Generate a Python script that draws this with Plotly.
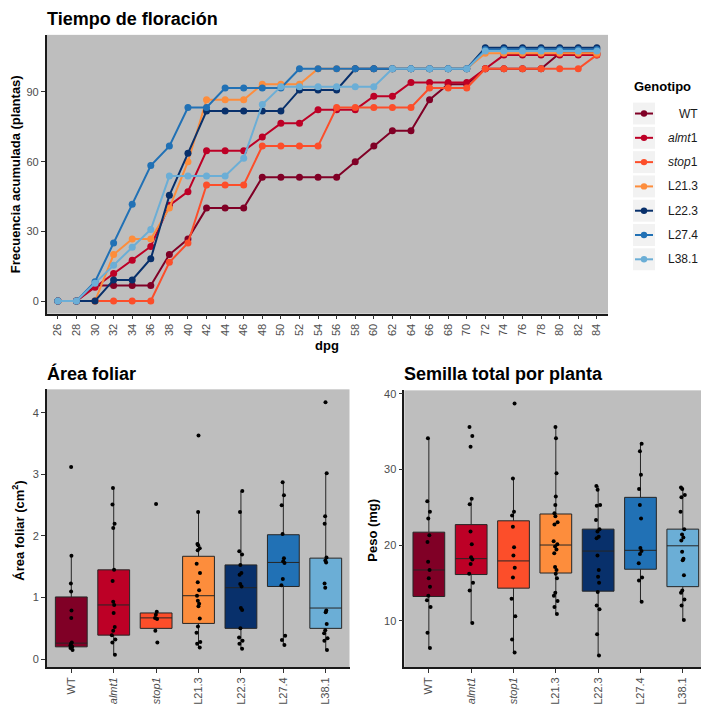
import plotly.graph_objects as go

W, H = 701, 706
FONT = "Liberation Sans, Arial, sans-serif"
PANEL = "#BEBEBE"

genotypes = ["WT", "almt1", "stop1", "L21.3", "L22.3", "L27.4", "L38.1"]
labels = ["WT", "<i>almt</i>1", "<i>stop</i>1", "L21.3", "L22.3", "L27.4", "L38.1"]
tick_labels = ["WT", "<i>almt1</i>", "<i>stop1</i>", "L21.3", "L22.3", "L27.4", "L38.1"]
colors = ["#800026", "#BD0026", "#FC4E2A", "#FD8D3C", "#08306B", "#2171B5", "#6BAED6"]

# ---- Tiempo de floración: cumulative frequency by day (dpg)
days = list(range(26, 86, 2))
freq_WT = [0, 0, 6.7, 6.7, 6.7, 6.7, 20, 26.7, 40, 40, 40, 53.3, 53.3, 53.3, 53.3, 53.3,
           60, 66.7, 73.3, 73.3, 86.7, 93.3, 93.3, 100, 100, 100, 100, 106.7, 106.7, 106.7]
freq_almt1 = [0, 0, 5.9, 11.8, 17.6, 23.5, 41.2, 47.1, 64.7, 64.7, 64.7, 70.6, 76.5, 76.5, 82.4,
              82.4, 82.4, 88.2, 88.2, 94.1, 94.1, 94.1, 94.1, 100, 105.9, 105.9, 105.9, 105.9, 105.9, 105.9]
freq_stop1 = [0, 0, 0, 0, 0, 0, 16.7, 25, 50, 50, 50, 66.7, 66.7, 66.7, 66.7, 83.3,
              83.3, 83.3, 83.3, 83.3, 91.7, 91.7, 91.7, 100, 100, 100, 100, 100, 100, 106]
freq_L213 = [0, 0, 0, 20, 26.7, 26.7, 40, 60, 86.7, 86.7, 86.7, 93.3, 93.3, 93.3, 100, 100,
             100, 100, 100, 100, 100, 100, 100, 106.7, 106.7, 106.7, 106.7, 106.7, 106.7, 106.7]
freq_L223 = [0, 0, 0, 9.1, 9.1, 18.2, 45.5, 63.6, 81.8, 81.8, 81.8, 81.8, 81.8, 90.9, 90.9, 90.9,
             100, 100, 100, 100, 100, 100, 100, 109.1, 109.1, 109.1, 109.1, 109.1, 109.1, 109.1]
freq_L274 = [0, 0, 8.3, 25, 41.7, 58.3, 66.7, 83.3, 83.3, 91.7, 91.7, 91.7, 91.7, 100, 100, 100,
             100, 100, 100, 100, 100, 100, 100, 108.3, 108.3, 108.3, 108.3, 108.3, 108.3, 108.3]
freq_L381 = [0, 0, 7.7, 15.4, 23.1, 30.8, 53.8, 53.8, 53.8, 53.8, 61.5, 84.6, 92.3, 92.3, 92.3, 92.3,
             92.3, 92.3, 100, 100, 100, 100, 100, 107.7, 107.7, 107.7, 107.7, 107.7, 107.7, 107.7]
freq_series = [freq_WT, freq_almt1, freq_stop1, freq_L213, freq_L223, freq_L274, freq_L381]
top_yticks = [0, 30, 60, 90]

# ---- Área foliar: box statistics and individual plants
area_q1 = [0.20, 0.39, 0.50, 0.58, 0.50, 1.18, 0.50]
area_median = [0.26, 0.88, 0.67, 1.03, 1.16, 1.57, 0.83]
area_q3 = [1.01, 1.45, 0.75, 1.67, 1.53, 2.02, 1.64]
area_lower = [0.15, 0.07, 0.47, 0.19, 0.17, 0.23, 0.15]
area_upper = [1.68, 2.78, 0.77, 2.39, 2.73, 2.87, 3.02]
area_points = [
    [3.12, 1.68, 1.23, 1.10, 0.79, 0.67, 0.27, 0.25, 0.22, 0.20, 0.18, 0.15],
    [2.78, 2.51, 2.20, 2.13, 1.45, 1.27, 0.93, 0.88, 0.75, 0.52, 0.46, 0.39, 0.32, 0.27, 0.07],
    [2.52, 0.77, 0.72, 0.67, 0.65, 0.46, 0.27],
    [3.63, 2.39, 1.87, 1.85, 1.80, 1.77, 1.55, 1.40, 1.25, 1.12, 1.03, 0.95, 0.90, 0.86,
     0.66, 0.53, 0.43, 0.28, 0.25, 0.19],
    [2.73, 2.39, 1.75, 1.70, 1.53, 1.40, 1.37, 1.22, 1.18, 0.83, 0.80, 0.50, 0.35, 0.30, 0.25, 0.17],
    [2.87, 2.66, 2.50, 2.03, 1.64, 1.59, 1.56, 1.30, 1.20, 0.38, 0.31, 0.23],
    [4.17, 3.02, 2.32, 2.20, 1.65, 1.60, 1.57, 1.23, 1.16, 0.79, 0.76, 0.57, 0.47, 0.42, 0.34, 0.30, 0.15],
]
area_yticks = [0, 1, 2, 3, 4]

# ---- Semilla total por planta: box statistics and individual plants
seed_q1 = [13.2, 16.1, 14.3, 16.3, 13.9, 16.8, 14.5]
seed_median = [16.7, 18.2, 17.9, 20.0, 19.2, 19.3, 19.9]
seed_q3 = [21.7, 22.7, 23.2, 24.1, 22.1, 26.3, 22.1]
seed_lower = [6.4, 9.7, 5.8, 10.9, 5.4, 12.5, 10.1]
seed_upper = [34.1, 26.1, 28.8, 35.6, 27.8, 33.4, 27.6]
seed_points = [
    [34.1, 25.8, 24.4, 23.5, 21.3, 20.4, 17.8, 16.7, 15.6, 14.5, 13.3, 12.7, 11.8, 8.4, 6.4],
    [35.6, 34.4, 33.0, 26.1, 25.4, 21.8, 20.1, 18.4, 18.1, 17.5, 16.2, 15.0, 14.0, 9.7],
    [38.7, 28.8, 24.4, 23.9, 22.4, 19.7, 18.6, 17.0, 15.7, 12.9, 10.6, 7.5, 5.8],
    [35.6, 34.1, 29.5, 26.4, 25.3, 24.2, 23.8, 23.0, 22.7, 20.5, 20.1, 19.8, 19.4, 18.9,
     17.1, 16.7, 16.2, 15.6, 13.7, 13.3, 12.6, 11.8, 10.9],
    [27.8, 27.3, 25.3, 25.2, 23.3, 22.1, 21.8, 21.1, 20.9, 18.6, 16.7, 15.8, 15.0, 13.8,
     12.0, 11.5, 8.2, 5.4],
    [33.4, 32.4, 29.3, 27.4, 25.3, 23.5, 19.6, 19.2, 18.8, 17.6, 15.7, 15.3, 12.5],
    [27.6, 27.4, 26.6, 26.3, 24.4, 22.1, 21.4, 21.0, 20.6, 19.1, 18.2, 18.0, 16.0, 14.0,
     13.7, 12.8, 12.0, 10.1],
]
seed_yticks = [10, 20, 30, 40]


def px(x):
    return x / W


def py(y):
    return 1 - y / H


fig = go.Figure()

# ---- top line chart
for g, c, vals in zip(genotypes, colors, freq_series):
    fig.add_trace(go.Scatter(
        x=days, y=vals, mode="lines+markers", name=g, showlegend=False,
        line=dict(color=c, width=2), marker=dict(color=c, size=7),
        xaxis="x", yaxis="y"))

# ---- boxplots
def add_boxes(stats, points, xa, ya):
    q1, med, q3, lo, up = stats
    for i, (g, c) in enumerate(zip(genotypes, colors)):
        fig.add_trace(go.Box(
            x=[g], q1=[q1[i]], median=[med[i]], q3=[q3[i]],
            lowerfence=[lo[i]], upperfence=[up[i]],
            fillcolor=c, line=dict(color="#262626", width=1),
            boxpoints=False, whiskerwidth=0, width=0.75, showlegend=False,
            xaxis=xa, yaxis=ya))
    for i, g in enumerate(genotypes):
        fig.add_trace(go.Box(
            x=[g] * len(points[i]), y=points[i], boxpoints="all", jitter=0.15,
            pointpos=0, fillcolor="rgba(0,0,0,0)", line=dict(width=0, color="rgba(0,0,0,0)"),
            marker=dict(color="black", size=4), width=0.75, whiskerwidth=0,
            showlegend=False, xaxis=xa, yaxis=ya))


add_boxes((area_q1, area_median, area_q3, area_lower, area_upper), area_points, "x2", "y2")
add_boxes((seed_q1, seed_median, seed_q3, seed_lower, seed_upper), seed_points, "x3", "y3")

axis_common = dict(showgrid=False, zeroline=False, showline=True, linecolor="#1a1a1a",
                   linewidth=1.5, ticks="outside", ticklen=4, tickcolor="#333333",
                   tickwidth=1, tickfont=dict(family=FONT, size=11, color="#4D4D4D"))

fig.update_layout(
    width=W, height=H, margin=dict(l=0, r=0, t=0, b=0),
    paper_bgcolor="white", plot_bgcolor=PANEL, boxmode="overlay",
    font=dict(family=FONT),
    xaxis=dict(domain=[px(46.7), px(608)], anchor="y", range=[24.8, 85.2],
               tickvals=days, ticktext=[str(d) for d in days], tickangle=-90, **axis_common),
    yaxis=dict(domain=[py(312), py(32)], anchor="x", range=[-5.45, 114.6],
               tickvals=top_yticks, **axis_common),
    xaxis2=dict(domain=[px(46.7), px(349.5)], anchor="y2", type="category",
                categoryorder="array", categoryarray=genotypes, range=[-0.58, 6.56],
                tickvals=genotypes, ticktext=tick_labels, tickangle=-90, **axis_common),
    yaxis2=dict(domain=[py(667), py(388)], anchor="x2", range=[-0.13, 4.38],
                tickvals=area_yticks, **axis_common),
    xaxis3=dict(domain=[px(404.3), 1.0], anchor="y3", type="category",
                categoryorder="array", categoryarray=genotypes, range=[-0.58, 6.43],
                tickvals=genotypes, ticktext=tick_labels, tickangle=-90, **axis_common),
    yaxis3=dict(domain=[py(667), py(389)], anchor="x3", range=[3.86, 40.44],
                tickvals=seed_yticks, **axis_common),
)

ann = []
shapes = []


def text(x, y, s, size, bold=False, xanchor="left", angle=0, color="black"):
    ann.append(dict(x=px(x), y=py(y), xref="paper", yref="paper", showarrow=False,
                    text=f"<b>{s}</b>" if bold else s, textangle=angle,
                    xanchor=xanchor, yanchor="middle",
                    font=dict(family=FONT, size=size, color=color)))


# titles
text(45, 16, "Tiempo de floración", 18, bold=True)
text(45, 372, "Área foliar", 18, bold=True)
text(402, 373, "Semilla total por planta", 18, bold=True)
# axis titles
text(15, 172, "Frecuencia acumulada (plantas)", 13, bold=True, xanchor="center", angle=-90)
text(327, 344, "dpg", 13, bold=True, xanchor="center")
text(18, 530, "Área foliar (cm<sup>2</sup>)", 13, bold=True, xanchor="center", angle=-90)
text(373, 530, "Peso (mg)", 13, bold=True, xanchor="center", angle=-90)

# legend
text(632, 84, "Genotipo", 13, bold=True)
row0, step = 111, 24.4
for i, (lab, c) in enumerate(zip(labels, colors)):
    yc = row0 + i * step
    shapes.append(dict(type="rect", xref="paper", yref="paper", x0=px(633), x1=px(655),
                       y0=py(yc + 11), y1=py(yc - 11), fillcolor="#F2F2F2", line=dict(width=0),
                       layer="below"))
    shapes.append(dict(type="line", xref="paper", yref="paper", x0=px(635), x1=px(653),
                       y0=py(yc), y1=py(yc), line=dict(color=c, width=2)))
    shapes.append(dict(type="circle", xref="paper", yref="paper", x0=px(640.8), x1=px(647.2),
                       y0=py(yc + 3.2), y1=py(yc - 3.2), fillcolor=c, line=dict(width=0)))
    text(700, yc, lab, 12, xanchor="right", color="#1a1a1a")

fig.update_layout(annotations=ann, shapes=shapes)
fig.write_html("out.html")
